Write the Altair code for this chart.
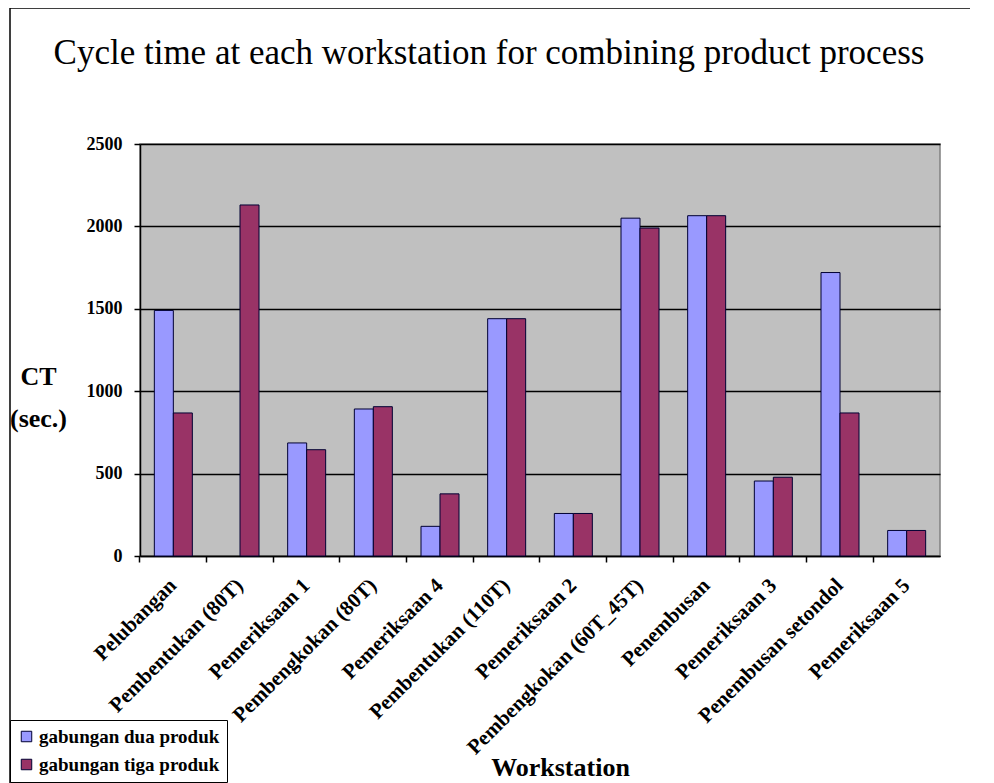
import altair as alt
import pandas as pd

title_text = "Cycle time at each workstation for combining product process"
categories = [
    "Pelubangan",
    "Pembentukan (80T)",
    "Pemeriksaan 1",
    "Pembengkokan (80T)",
    "Pemeriksaan 4",
    "Pembentukan (110T)",
    "Pemeriksaan 2",
    "Pembengkokan (60T_45T)",
    "Penembusan",
    "Pemeriksaan 3",
    "Penembusan setondol",
    "Pemeriksaan 5",
]
series_names = ["gabungan dua produk", "gabungan tiga produk"]
dua_produk = [1490, None, 686, 892, 180, 1440, 258, 2050, 2065, 455, 1720, 155]
tiga_produk = [868, 2130, 645, 906, 377, 1440, 258, 1990, 2065, 478, 868, 155]
y_ticks = [0, 500, 1000, 1500, 2000, 2500]
colors = ["#9999FF", "#993366"]

rows = []
for c, a, b in zip(categories, dua_produk, tiga_produk):
    if a is not None:
        rows.append({"Workstation": c, "Series": series_names[0], "CT": a})
    if b is not None:
        rows.append({"Workstation": c, "Series": series_names[1], "CT": b})
df = pd.DataFrame(rows)

FONT = "Liberation Serif"

x_scale = alt.Scale(domain=categories, paddingInner=0.43, paddingOuter=0.215)

# outer chart frame (decoration)
frame = alt.Chart(pd.DataFrame({"k": [0]})).mark_rect(
    fillOpacity=0, stroke="black", strokeWidth=1.5
).encode(
    x=alt.value(-130), x2=alt.value(832), y=alt.value(-136), y2=alt.value(700)
)

title_layer = alt.Chart(pd.DataFrame({"t": [title_text]})).mark_text(
    font=FONT, fontSize=35, color="black", align="center", baseline="middle"
).encode(text="t:N", x=alt.value(349), y=alt.value(-91))

bars = alt.Chart(df).mark_bar(stroke="#000033", strokeWidth=1).encode(
    x=alt.X(
        "Workstation:N",
        sort=categories,
        scale=x_scale,
        axis=alt.Axis(
            title="Workstation",
            titleFont=FONT,
            titleFontSize=26,
            titleFontWeight="bold",
            titleColor="black",
            titleBaseline="middle",
            titleY=211,
            titleX=420,
            labelAngle=-45,
            labelAlign="right",
            labelBaseline="middle",
            labelFont=FONT,
            labelFontSize=21,
            labelFontWeight="bold",
            labelColor="black",
            labelPadding=26,
            labelOffset=0,
            ticks=False,
            domainColor="black",
            domainWidth=1.5,
            labelLimit=400,
            orient="bottom",
        ),
    ),
    xOffset=alt.XOffset("Series:N", scale=alt.Scale(domain=series_names, paddingInner=0, paddingOuter=0)),
    y=alt.Y(
        "CT:Q",
        scale=alt.Scale(domain=[0, 2500], nice=False),
        axis=alt.Axis(
            values=y_ticks,
            format="d",
            title=["CT", "(sec.)"],
            titleAngle=0,
            titleFont=FONT,
            titleFontSize=26,
            titleFontWeight="bold",
            titleColor="black",
            titleAlign="center",
            titleBaseline="middle",
            titleX=-102,
            titleY=232,
            titleLineHeight=42,
            labelFont=FONT,
            labelFontSize=18,
            labelFontWeight="bold",
            labelColor="black",
            labelPadding=12,
            tickColor="black",
            tickSize=6,
            tickWidth=1.5,
            domainColor="black",
            domainWidth=1.5,
            grid=True,
            gridColor="black",
            gridWidth=1.4,
        ),
    ),
    color=alt.Color(
        "Series:N",
        scale=alt.Scale(domain=series_names, range=colors),
        legend=alt.Legend(
            title=None,
            orient="none",
            legendX=-130,
            legendY=576,
            direction="vertical",
            fillColor="white",
            strokeColor="black",
            padding=7,
            symbolType="square",
            symbolSize=110,
            symbolStrokeColor="#000033",
            symbolStrokeWidth=1,
            labelFont=FONT,
            labelFontSize=19,
            labelFontWeight="bold",
            labelColor="black",
            labelOffset=3,
            rowPadding=8,
            labelLimit=300,
        ),
    ),
)

ticks_layer = alt.Chart(df).mark_bar(opacity=0).encode(
    x=alt.X(
        "Workstation:N",
        sort=categories,
        scale=x_scale,
        axis=alt.Axis(
            title=None,
            labels=False,
            domain=False,
            ticks=True,
            bandPosition=-0.3772,
            tickColor="black",
            tickSize=6,
            tickWidth=1.5,
            orient="bottom",
        ),
    ),
    y=alt.Y("CT:Q"),
)

chart = (
    alt.layer(frame, title_layer, bars, ticks_layer)
    .resolve_axis(x="independent")
    .properties(
        width=800,
        height=412,
        autosize=alt.AutoSizeParams(type="none"),
        padding={"left": 132, "top": 136, "right": 30, "bottom": 240},
        background="white",
    )
    .configure_view(fill="#C0C0C0", stroke="#808080", strokeWidth=1.5)
)

chart.save("out.html", embed_options={"renderer": "svg", "actions": False})
